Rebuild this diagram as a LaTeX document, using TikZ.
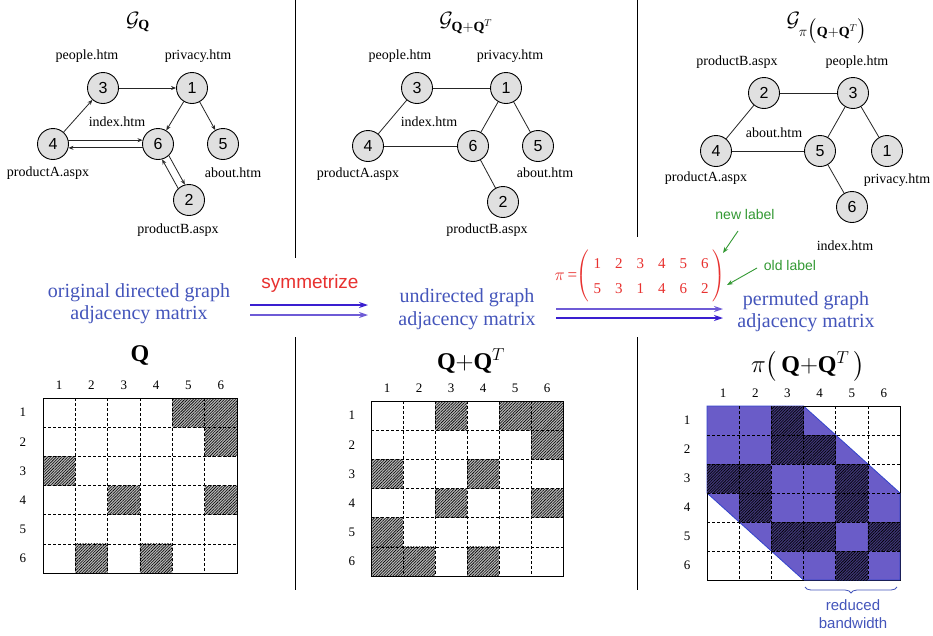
\documentclass[tikz,border=0pt]{standalone}
\usepackage{amsmath}
\usepackage{fontspec}
\setmainfont{Liberation Serif}
\setsansfont{Liberation Sans}
\usetikzlibrary{arrows.meta,patterns.meta,decorations.pathreplacing}
\definecolor{txtblue}{HTML}{4455BB}
\definecolor{symred}{HTML}{E8312F}
\definecolor{lblgreen}{HTML}{339933}
\definecolor{bandfill}{HTML}{6A5CC8}
\definecolor{bandedge}{HTML}{3344CC}
\definecolor{arrA}{HTML}{3A1FD0}
\definecolor{arrB}{HTML}{6E5BD6}
\definecolor{nodegray}{HTML}{E0E0E0}
\tikzset{
  vtx/.style={circle,draw=black,line width=0.9pt,fill=nodegray,minimum size=31pt,inner sep=0pt,font=\sffamily\fontsize{16}{16}\selectfont},
  plab/.style={font=\fontsize{14}{14}\selectfont,inner sep=0pt},
  dedge/.style={line width=0.8pt,draw=black!85,-{Stealth[length=5pt,width=4pt]}},
  uedge/.style={line width=0.8pt,draw=black!85},
  sepline/.style={line width=1pt,black},
  bluetxt/.style={font=\fontsize{20}{22}\selectfont,text=txtblue,inner sep=0pt,anchor=base},
  bigarrA/.style={line width=1.4pt,draw=arrA,-{Stealth[length=9pt,width=6pt]}},
  bigarrB/.style={line width=1.4pt,draw=arrB,-{Stealth[length=9pt,width=6pt]}},
  garr/.style={line width=0.9pt,draw=lblgreen,-{Stealth[length=6pt,width=4.5pt]}},
  mlab/.style={font=\fontsize{13}{13}\selectfont,inner sep=0pt},
  gridd/.style={line width=0.6pt,dash pattern=on 3pt off 2pt,black},
  frame/.style={line width=0.9pt,black},
  hatchbg/.style={fill=black!28},
  hatch/.style={pattern={Lines[angle=45,distance=2pt,line width=0.6pt]},pattern color=black},
  ttl/.style={font=\fontsize{20}{24}\selectfont,inner sep=0pt},
}
\begin{document}
\begin{tikzpicture}[x=1pt,y=-1pt]
\useasboundingbox (0,0) rectangle (933,635);
\fill[white] (0,0) rectangle (933,635);

% separators
\draw[sepline] (295,0) -- (295,258);
\draw[sepline] (295,337) -- (295,590);
\draw[sepline] (637,0) -- (637,237);
\draw[sepline] (637,337) -- (637,590);

% ---------- graph 1 ----------
\node[ttl] (t1) at (138,22) {$\mathcal{G}_{\textbf{Q}}$};
\node[vtx] (a3) at (103,88) {3};
\node[vtx] (a1) at (192,88) {1};
\node[vtx] (a4) at (53,144) {4};
\node[vtx] (a6) at (158,144) {6};
\node[vtx] (a5) at (223,144) {5};
\node[vtx] (a2) at (189,200) {2};
\node[plab] (la3) at (87,56) {people.htm};
\node[plab] (la1) at (198,56) {privacy.htm};
\node[plab] (la6) at (117,122) {index.htm};
\node[plab] (la4) at (48,173) {productA.aspx};
\node[plab] (la5) at (233,173) {about.htm};
\node[plab] (la2) at (178,230) {productB.aspx};
\draw[dedge] (a3) -- (a1);
\draw[dedge] (a4) -- (a3);
\draw[dedge] (a1) -- (a6);
\draw[dedge] (a1) -- (a5);
\draw[dedge] (a4.14) -- (a6.166);
\draw[dedge] (a6.194) -- (a4.346);
\draw[dedge] (a6.-47) -- (a2.105);
\draw[dedge] (a2.133) -- (a6.-75);

% ---------- graph 2 ----------
\node[ttl] (t2) at (466,23) {$\mathcal{G}_{\textbf{Q}+\textbf{Q}^{T}}$};
\node[vtx] (b3) at (417,88) {3};
\node[vtx] (b1) at (506,88) {1};
\node[vtx] (b4) at (368,146) {4};
\node[vtx] (b6) at (473,146) {6};
\node[vtx] (b5) at (538,146) {5};
\node[vtx] (b2) at (503,202) {2};
\node[plab] (lb3) at (400,56) {people.htm};
\node[plab] (lb1) at (510,56) {privacy.htm};
\node[plab] (lb6) at (429,122) {index.htm};
\node[plab] (lb4) at (358,174) {productA.aspx};
\node[plab] (lb5) at (545,173) {about.htm};
\node[plab] (lb2) at (487,230) {productB.aspx};
\draw[uedge] (b3) -- (b1);
\draw[uedge] (b3) -- (b4);
\draw[uedge] (b4) -- (b6);
\draw[uedge] (b1) -- (b6);
\draw[uedge] (b1) -- (b5);
\draw[uedge] (b6) -- (b2);

% ---------- graph 3 ----------
\node[ttl] (t3) at (827,28) {$\mathcal{G}_{\pi\bigl(\textbf{Q}+\textbf{Q}^{T}\bigr)}$};
\node[vtx] (c2) at (764,93) {2};
\node[vtx] (c3) at (853,93) {3};
\node[vtx] (c4) at (716,151) {4};
\node[vtx] (c5) at (820,151) {5};
\node[vtx] (c1) at (887,151) {1};
\node[vtx] (c6) at (852,207) {6};
\node[plab] (lc2) at (737,62) {productB.aspx};
\node[plab] (lc3) at (857,62) {people.htm};
\node[plab] (lc5) at (774,133) {about.htm};
\node[plab] (lc4) at (706,178) {productA.aspx};
\node[plab] (lc1) at (897,180) {privacy.htm};
\node[plab] (lc6) at (845,246) {index.htm};
\draw[uedge] (c2) -- (c3);
\draw[uedge] (c2) -- (c4);
\draw[uedge] (c4) -- (c5);
\draw[uedge] (c3) -- (c5);
\draw[uedge] (c3) -- (c1);
\draw[uedge] (c5) -- (c6);

% ---------- middle row ----------
\node[bluetxt] (o1) at (139,297) {original directed graph};
\node[bluetxt] (o2) at (139,319) {adjacency matrix};
\node[bluetxt] (u1) at (467,302) {undirected graph};
\node[bluetxt] (u2) at (467,325) {adjacency matrix};
\node[bluetxt] (p1) at (806,305) {permuted graph};
\node[bluetxt] (p2) at (806,327) {adjacency matrix};

\node[font=\sffamily\fontsize{19}{19}\selectfont,text=symred,inner sep=0pt] (sym) at (310,284) {symmetrize};
\coordinate (sa1) at (250,305); \coordinate (sa2) at (368,305);
\coordinate (sb1) at (250,315); \coordinate (sb2) at (368,315);
\draw[bigarrA] (sa1) -- (sa2);
\draw[bigarrB] (sb1) -- (sb2);
\coordinate (pa1) at (556,309); \coordinate (pa2) at (723,309);
\coordinate (pb1) at (556,318); \coordinate (pb2) at (723,318);
\draw[bigarrB] (pa1) -- (pa2);
\draw[bigarrA] (pb1) -- (pb2);

\node[text=symred,font=\fontsize{17}{18}\selectfont,inner sep=0pt] (pieq) at (566,277) {$\pi$\,=};
\node[text=symred,font=\fontsize{15}{18}\selectfont,inner sep=0pt] (pim) at (651,276)
  {\setlength\tabcolsep{7pt}\renewcommand\arraystretch{1.4}$\left(\begin{tabular}{@{\hspace{4pt}}cccccc@{\hspace{4pt}}}1&2&3&4&5&6\\5&3&1&4&6&2\end{tabular}\right)$};

\node[font=\sffamily\fontsize{14}{14}\selectfont,text=lblgreen,inner sep=0pt] (newl) at (745,214) {new label};
\node[font=\sffamily\fontsize{14}{14}\selectfont,text=lblgreen,inner sep=0pt] (oldl) at (790,265) {old label};
\coordinate (nls) at (738,231); \coordinate (nlt) at (723,253);
\coordinate (ols) at (757,268); \coordinate (olt) at (727,285);
\draw[garr] (nls) -- (nlt);
\draw[garr] (ols) -- (olt);

% ---------- matrix 1 ----------
\node[font=\fontsize{24}{24}\selectfont,inner sep=0pt] (mt1) at (140,355) {\textbf{Q}};
\begin{scope}[xshift=43pt,yshift=-398pt,x=32.33pt,y=-29.17pt]
  \foreach \r/\c in {1/5,1/6,2/6,3/1,4/3,4/6,6/2,6/4}{
    \fill[hatchbg] (\c-1,\r-1) rectangle (\c,\r);
    \fill[hatch] (\c-1,\r-1) rectangle (\c,\r);
  }
  \foreach \i in {1,...,5}{
    \draw[gridd] (\i,0) -- (\i,6);
    \draw[gridd] (0,\i) -- (6,\i);
  }
  \draw[frame] (0,0) rectangle (6,6);
  \foreach \i in {1,...,6}{
    \node[mlab] (m1c\i) at (\i-0.5,-0.45) {\i};
    \node[mlab] (m1r\i) at (-0.62,\i-0.5) {\i};
  }
\end{scope}

% ---------- matrix 2 ----------
\node[font=\fontsize{24}{24}\selectfont,inner sep=0pt] (mt2) at (471,361) {$\textbf{Q}{+}\textbf{Q}^{T}$};
\begin{scope}[xshift=371pt,yshift=-401pt,x=32pt,y=-29.17pt]
  \foreach \r/\c in {1/3,1/5,1/6,2/6,3/1,3/4,4/3,4/6,5/1,6/1,6/2,6/4}{
    \fill[hatchbg] (\c-1,\r-1) rectangle (\c,\r);
    \fill[hatch] (\c-1,\r-1) rectangle (\c,\r);
  }
  \foreach \i in {1,...,5}{
    \draw[gridd] (\i,0) -- (\i,6);
    \draw[gridd] (0,\i) -- (6,\i);
  }
  \draw[frame] (0,0) rectangle (6,6);
  \foreach \i in {1,...,6}{
    \node[mlab] (m2c\i) at (\i-0.5,-0.45) {\i};
    \node[mlab] (m2r\i) at (-0.6,\i-0.5) {\i};
  }
\end{scope}

% ---------- matrix 3 ----------
\node[font=\fontsize{24}{24}\selectfont,inner sep=0pt] (mt3) at (808,366) {$\pi\bigl(\,\textbf{Q}{+}\textbf{Q}^{T}\,\bigr)$};
\begin{scope}[xshift=707pt,yshift=-406pt,x=32.17pt,y=-29pt]
  \draw[frame] (0,0) rectangle (6,6);
  \filldraw[fill=bandfill,draw=bandedge,line width=0.8pt] (0,0) -- (3,0) -- (6,3) -- (6,6) -- (3,6) -- (0,3) -- cycle;
  \foreach \r/\c in {1/3,2/3,2/4,3/1,3/2,3/5,4/2,4/5,5/3,5/4,5/6,6/5}{
    \fill[fill=bandfill!60!black] (\c-1,\r-1) rectangle (\c,\r);
    \fill[hatch] (\c-1,\r-1) rectangle (\c,\r);
  }
  \foreach \i in {1,...,5}{
    \draw[gridd] (\i,0) -- (\i,6);
    \draw[gridd] (0,\i) -- (6,\i);
  }
  \draw[black,line width=0.9pt] (0,3) -- (0,6) -- (3,6);
  \draw[black,line width=0.9pt] (3,0) -- (6,0) -- (6,3);
  \foreach \i in {1,...,6}{
    \node[mlab] (m3c\i) at (\i-0.5,-0.45) {\i};
    \node[mlab] (m3r\i) at (-0.62,\i-0.5) {\i};
  }
\end{scope}

\coordinate (br1) at (805,587); \coordinate (br2) at (897,587);
\draw[txtblue,line width=0.8pt,decorate,decoration={brace,mirror,amplitude=6pt}] (br1) -- (br2);
\node[font=\sffamily\fontsize{15}{18}\selectfont,text=txtblue,inner sep=0pt,anchor=base] (rd1) at (853,610) {reduced};
\node[font=\sffamily\fontsize{15}{18}\selectfont,text=txtblue,inner sep=0pt,anchor=base] (rd2) at (853,628) {bandwidth};
\end{tikzpicture}
\end{document}
